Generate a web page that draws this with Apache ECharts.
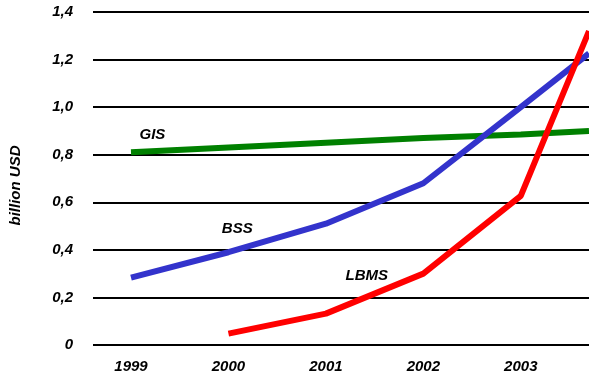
<!DOCTYPE html>
<html><head><meta charset="utf-8">
<script src="https://cdn.jsdelivr.net/npm/echarts@6/dist/echarts.min.js"></script>
<style>html,body{margin:0;padding:0;background:#fff}#c{width:589px;height:377px}</style>
</head><body><div id="c"></div>
<script>
var years = [1999, 2000, 2001, 2002, 2003];
var yTicks = [0, 0.2, 0.4, 0.6, 0.8, 1.0, 1.2, 1.4];
var gisX = [1999, 2000, 2001, 2002, 2003, 2003.7];
var gisY = [0.81, 0.83, 0.85, 0.87, 0.885, 0.9];
var bssX = [1999, 2000, 2001, 2002, 2003, 2003.7];
var bssY = [0.283, 0.39, 0.51, 0.68, 1.0, 1.226];
var lbmsX = [2000, 2001, 2002, 2003, 2003.7];
var lbmsY = [0.048, 0.132, 0.30, 0.627, 1.32];
var seriesNames = ['GIS', 'BSS', 'LBMS'];

function pairs(xs, ys){ return xs.map(function(x,i){ return [x, ys[i]]; }); }
var FF = 'Liberation Sans, Arial, sans-serif';
function tag(name, coord){
  return {data:[{coord:coord, value:name}], symbolSize:0, silent:true,
    label:{show:true, formatter:name, position:'inside', fontFamily:FF, fontWeight:'bold', fontStyle:'italic', fontSize:15, color:'#000'}};
}
var chart = echarts.init(document.getElementById('c'), null, {renderer:'canvas'});
chart.setOption({
  animation:false,
  backgroundColor:'#fff',
  grid:{left:90, right:0, top:12, bottom:32, containLabel:false},
  xAxis:{type:'value', min:1998.61, max:2003.7,
    axisLine:{show:false}, axisTick:{show:false}, splitLine:{show:false},
    axisLabel:{customValues:years, formatter:function(v){return String(Math.round(v));}, margin:14,
      fontFamily:FF, fontWeight:'bold', fontStyle:'italic', fontSize:15, color:'#000'}},
  yAxis:{type:'value', min:0, max:1.4, interval:0.2,
    name:'billion USD', nameLocation:'middle', nameGap:70, nameRotate:90,
    nameTextStyle:{fontFamily:FF, fontWeight:'bold', fontStyle:'italic', fontSize:15, color:'#000', padding:[0,0,0,-14]},
    axisLine:{show:false}, axisTick:{show:false},
    splitLine:{show:true, lineStyle:{color:'#000', width:2}},
    axisLabel:{margin:20, fontFamily:FF, fontWeight:'bold', fontStyle:'italic', fontSize:15, color:'#000',
      customValues:yTicks,
      formatter:function(v){ return v===0 ? '0' : v.toFixed(1).replace('.', ','); }}},
  series:[
    {name:seriesNames[0], type:'line', data:pairs(gisX,gisY), symbol:'none', lineStyle:{color:'#008000', width:6}, z:3,
      markPoint:tag('GIS',[1999.22, 0.885])},
    {name:seriesNames[1], type:'line', data:pairs(bssX,bssY), symbol:'none', lineStyle:{color:'#3333cc', width:6}, z:4,
      markPoint:tag('BSS',[2000.09, 0.49])},
    {name:seriesNames[2], type:'line', data:pairs(lbmsX,lbmsY), symbol:'none', lineStyle:{color:'#ff0000', width:6}, z:5,
      markPoint:tag('LBMS',[2001.42, 0.29])}
  ]
});
</script></body></html>
